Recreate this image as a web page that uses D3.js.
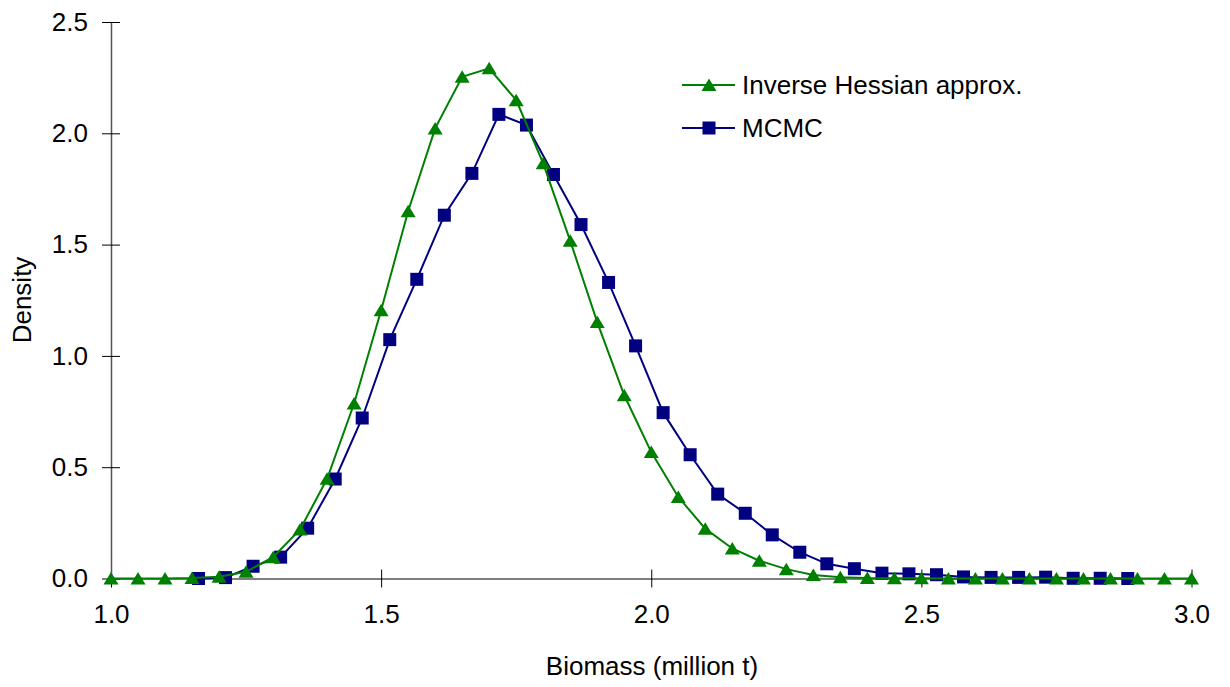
<!DOCTYPE html>
<html>
<head>
<meta charset="utf-8">
<script src="https://cdn.jsdelivr.net/npm/d3@7"></script>
<style>
  html, body { margin: 0; padding: 0; background: #fff; }
  svg { display: block; }
  text { font-family: "Liberation Sans", Arial, sans-serif; fill: #000; }
</style>
</head>
<body>
<svg id="chart" width="1230" height="687"></svg>
<script>
// ---- Data ----
const hessX = [1.00,1.05,1.10,1.15,1.20,1.25,1.30,1.35,1.40,1.45,1.50,1.55,1.60,1.65,1.70,1.75,1.80,1.85,1.90,1.95,
               2.00,2.05,2.10,2.15,2.20,2.25,2.30,2.35,2.40,2.45,2.50,2.55,2.60,2.65,2.70,2.75,2.80,2.85,2.90,2.95,3.00];
const hessY = [0,0,0,0.002,0.008,0.03,0.096,0.22,0.448,0.786,1.205,1.65,2.022,2.254,2.292,2.149,1.865,1.517,1.152,0.823,
               0.568,0.366,0.224,0.135,0.08,0.042,0.016,0.006,0.002,0.001,0.001,0,0,0,0,0,0,0,0,0,0];
const mcmcX = [1.162,1.212,1.263,1.314,1.364,1.415,1.465,1.516,1.566,1.617,1.668,1.718,1.769,1.819,1.870,1.921,1.971,
               2.022,2.072,2.123,2.174,2.224,2.275,2.325,2.376,2.427,2.477,2.528,2.578,2.629,2.680,2.730,2.781,2.831,2.882];
const mcmcY = [0,0.004,0.055,0.096,0.226,0.447,0.721,1.073,1.344,1.632,1.82,2.085,2.037,1.815,1.59,1.33,1.045,
               0.745,0.556,0.379,0.293,0.196,0.118,0.066,0.044,0.024,0.021,0.017,0.007,0.005,0.005,0.006,0.001,0.001,0];
const xTicks = [1.0,1.5,2.0,2.5,3.0];
const yTicks = [0.0,0.5,1.0,1.5,2.0,2.5];
const seriesNames = ["Inverse Hessian approx.", "MCMC"];
const colors = ["#008000", "#000080"];

// ---- Layout ----
const svg = d3.select("#chart");
const x = d3.scaleLinear().domain([1, 3]).range([111, 1191.5]);
const y = d3.scaleLinear().domain([0, 2.5]).range([578.5, 22]);
const fs = 26;

// Axes
const xAxis = svg.append("g").attr("transform", `translate(0,${y(0)})`)
  .call(d3.axisBottom(x).tickValues(xTicks).tickFormat(d3.format(".1f")).tickSizeInner(9).tickSizeOuter(0).tickPadding(17));
xAxis.select(".domain").attr("stroke", "#555").attr("stroke-width", 1.5);
xAxis.selectAll(".tick line").attr("stroke", "#000").attr("y1", -9);
xAxis.selectAll(".tick text").style("font-size", fs + "px").attr("font-family", null);

const yAxis = svg.append("g").attr("transform", `translate(${x(1)},0)`)
  .call(d3.axisLeft(y).tickValues(yTicks).tickFormat(d3.format(".1f")).tickSizeInner(9).tickSizeOuter(0).tickPadding(14));
yAxis.select(".domain").attr("stroke", "#555").attr("stroke-width", 1.5);
yAxis.selectAll(".tick line").attr("stroke", "#000").attr("x1", 9).attr("x2", -9);
yAxis.selectAll(".tick text").style("font-size", fs + "px").attr("font-family", null);

// Axis titles
svg.append("text").attr("x", 652).attr("y", 675).attr("text-anchor", "middle")
  .style("font-size", fs + "px").text("Biomass (million t)");
svg.append("text").attr("transform", "translate(31,300) rotate(-90)").attr("text-anchor", "middle")
  .style("font-size", fs + "px").text("Density");

// Series
const line = d3.line().x(d => x(d[0])).y(d => y(d[1]));
const hess = hessX.map((v, i) => [v, hessY[i]]);
const mcmc = mcmcX.map((v, i) => [v, mcmcY[i]]);

const tri = (cx, cy) => `M${cx},${cy - 6.5}L${cx + 7.5},${cy + 6}L${cx - 7.5},${cy + 6}Z`;

svg.append("path").datum(mcmc).attr("d", line).attr("fill", "none").attr("stroke", colors[1]).attr("stroke-width", 2);
svg.append("g").selectAll("rect").data(mcmc).join("rect")
  .attr("x", d => x(d[0]) - 6.5).attr("y", d => y(d[1]) - 6.5).attr("width", 13).attr("height", 13)
  .attr("fill", colors[1]);

svg.append("path").datum(hess).attr("d", line).attr("fill", "none").attr("stroke", colors[0]).attr("stroke-width", 2);
svg.append("g").selectAll("path").data(hess).join("path")
  .attr("d", d => tri(x(d[0]), y(d[1]))).attr("fill", colors[0]);

// Legend
const lg = svg.append("g");
const ly = [85, 128];
seriesNames.forEach((name, i) => {
  lg.append("line").attr("x1", 682).attr("x2", 735).attr("y1", ly[i]).attr("y2", ly[i])
    .attr("stroke", colors[i]).attr("stroke-width", 2);
  if (i === 0) {
    lg.append("path").attr("d", tri(709, ly[i])).attr("fill", colors[i]);
  } else {
    lg.append("rect").attr("x", 709 - 6.5).attr("y", ly[i] - 6.5).attr("width", 13).attr("height", 13).attr("fill", colors[i]);
  }
  lg.append("text").attr("x", 742).attr("y", ly[i] + 9).style("font-size", fs + "px").text(name);
});
</script>
</body>
</html>
